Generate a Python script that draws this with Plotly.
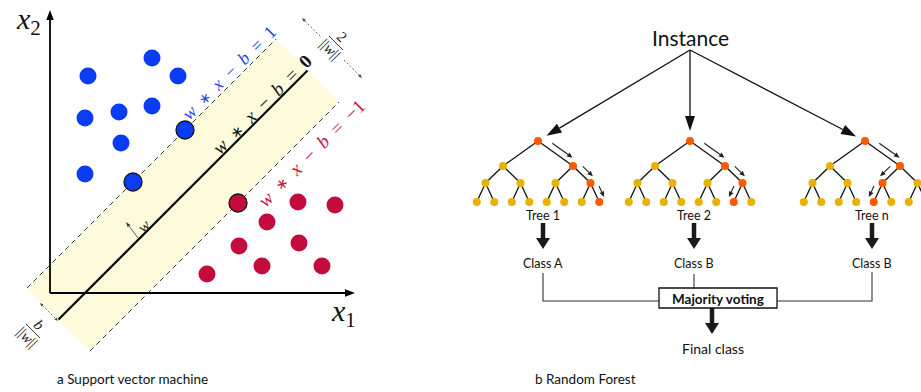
import numpy as np
import plotly.graph_objects as go

# ---------------- Support vector machine (feature space units) ----------------
blue_x1 = [3.8, 10.2, 12.8, 3.5, 6.9, 10.2, 7.1, 3.5]
blue_x2 = [21.7, 23.5, 21.7, 17.5, 18.1, 18.7, 15.0, 11.9]
blue_sv_x1 = [13.5, 8.3]
blue_sv_x2 = [16.3, 11.1]
red_x1 = [24.8, 28.5, 21.7, 18.9, 24.9, 21.2, 15.7, 27.2]
red_x2 = [9.1, 8.8, 7.1, 4.7, 5.0, 2.7, 1.9, 2.7]
red_sv_x1 = [18.8]
red_sv_x2 = [9.0]

plane_offset = -3.5      # decision boundary: x2 = x1 + plane_offset
margin_offset = 6.3      # margins: x2 = x1 + plane_offset +/- margin_offset
band_t = [0.85, 25.75]   # x1 extent of the drawn boundary segment
x1_axis_max = 30.5
x2_axis_max = 28.3

eq_labels = ["w ∗ x − b = 1", "w ∗ x − b = 0", "w ∗ x − b = −1"]

# ---------------- Random forest ----------------
instance_label = "Instance"
tree_names = ["Tree 1", "Tree 2", "Tree n"]
tree_votes = ["Class A", "Class B", "Class B"]
tree_paths = ["RRR", "RRL", "RLL"]
vote_label = "Majority voting"
final_label = "Final class"
captions = ["a Support vector machine", "b Random Forest"]

# colours
BLUE, RED = "#0a3cf5", "#c40c3c"
BLUE_TXT, RED_TXT = "#2f45f0", "#c8143f"
BAND = "#fdfbdb"
NODE_Y, NODE_R = "#e9b100", "#ff5a00"
SERIF = "Liberation Serif"
SANS = "Lato"

W, H = 921, 392
fig = go.Figure()
shapes, anns = [], []


def arrow(x0, y0, x1, y1, head_len, head_w, lw, color, xref="x", yref="y",
          dash="solid", heads=(False, True), layer="above"):
    p0 = np.array([x0, y0], float)
    p1 = np.array([x1, y1], float)
    u = (p1 - p0) / np.linalg.norm(p1 - p0)
    n = np.array([-u[1], u[0]])
    a, b = p0.copy(), p1.copy()
    out = []
    for flag, tip, sgn in ((heads[0], p0, -1), (heads[1], p1, 1)):
        if not flag:
            continue
        base = tip - sgn * u * head_len
        l, r = base + n * head_w / 2, base - n * head_w / 2
        out.append(dict(type="path", xref=xref, yref=yref, layer=layer,
                        path=f"M{tip[0]},{tip[1]} L{l[0]},{l[1]} L{r[0]},{r[1]} Z",
                        fillcolor=color, line=dict(width=0)))
        if sgn < 0:
            a = base
        else:
            b = base
    out.insert(0, dict(type="line", xref=xref, yref=yref, layer=layer,
                       x0=a[0], y0=a[1], x1=b[0], y1=b[1],
                       line=dict(color=color, width=lw, dash=dash)))
    return out


def text(t, x, y, size, color="#111", family=SANS, angle=0, xref="x", yref="y",
         xanchor="center"):
    anns.append(dict(text=t, x=x, y=y, xref=xref, yref=yref, showarrow=False,
                     textangle=angle, xanchor=xanchor, yanchor="middle",
                     font=dict(size=size, color=color, family=family)))


def math(s, size):
    out = []
    for tok in s.split(" "):
        if tok.isalpha():
            out.append(f"<i>{tok}</i>")
        elif tok == "∗":
            out.append(f'<span style="font-size:{size * 0.8:.1f}px">∗</span>')
        else:
            out.append(tok)
    return "\u2002".join(out)


# ---------- SVM panel (xaxis2 / yaxis2) ----------
S = dict(xref="x2", yref="y2")
h = margin_offset / 2
t0, t1 = band_t
c = plane_offset
up0, up1 = (t0 - h, t0 + c + h), (t1 - h, t1 + c + h)
dn0, dn1 = (t0 + h, t0 + c - h), (t1 + h, t1 + c - h)
shapes.append(dict(type="path", layer="below", fillcolor=BAND, line=dict(width=0),
                   path=f"M{up0[0]},{up0[1]} L{up1[0]},{up1[1]} L{dn1[0]},{dn1[1]} "
                        f"L{dn0[0]},{dn0[1]} Z", **S))
for p, q in ((up0, up1), (dn0, dn1)):
    shapes.append(dict(type="line", layer="below", x0=p[0], y0=p[1], x1=q[0], y1=q[1],
                       line=dict(color="#333", width=1, dash="5px,4px"), **S))
shapes.append(dict(type="line", layer="below", x0=t0, y0=t0 + c, x1=t1, y1=t1 + c,
                   line=dict(color="#000", width=2.2), **S))
# coordinate axes
shapes += arrow(0, 0, 0, x2_axis_max, 1.0, 0.75, 1.8, "#000", layer="below", **S)
shapes += arrow(0, 0, x1_axis_max, 0, 1.0, 0.75, 1.8, "#000", layer="below", **S)
# normal vector w
shapes += arrow(8.8, 5.5, 7.6, 7.1, 0.5, 0.35, 0.8, "#333", **S)
text("<i>w</i>", 9.3, 6.7, 16, "#222", SERIF, -45, **S)
# b/||w|| offset
shapes += arrow(-1.0, -1.0, 0.8, -2.8, 0.35, 0.3, 0.8, "#444", dash="2px,2px",
                heads=(True, True), **S)
# 2/||w|| margin width
shapes += arrow(25.2, 27.5, 27.1, 25.6, 0.4, 0.3, 0.8, "#444", dash="2px,2px",
                heads=(True, False), **S)
shapes += arrow(29.4, 23.3, 31.2, 21.5, 0.4, 0.3, 0.8, "#444", dash="2px,2px",
                heads=(False, True), **S)


def fraction(num, cx, cy, size):
    v = np.array([0.707, -0.707])
    shapes.append(dict(type="line", x0=cx - 1.0 * v[0], y0=cy - 1.0 * v[1],
                       x1=cx + 1.0 * v[0], y1=cy + 1.0 * v[1],
                       line=dict(color="#222", width=0.9), **S))
    text(num, cx + 0.6, cy + 0.6, size, "#222", SERIF, 45, **S)
    text("||<i>w</i>||", cx - 0.62, cy - 0.62, size, "#222", SERIF, 45, **S)


fraction("2", 28.6, 25.0, 15)
fraction("<i>b</i>", -1.7, -3.8, 15)

# hyperplane equations
text(math(eq_labels[0], 18), 17.9, 22.0, 18, BLUE_TXT, SERIF, -45, **S)
text(math(eq_labels[1], 19).replace("=\u20020", "=\u2002<b>0</b>"),
     21.2, 18.9, 19, "#111", SERIF, -45, **S)
text(math(eq_labels[2], 19), 26.1, 14.0, 19, RED_TXT, SERIF, -45, **S)
text("<i>x</i><sub>2</sub>", -2.2, 27.2, 30, "#111", SERIF, **S)
text("<i>x</i><sub>1</sub>", 29.3, -2.0, 30, "#111", SERIF, **S)

fig.add_trace(go.Scatter(x=blue_x1, y=blue_x2, mode="markers", xaxis="x2", yaxis="y2",
                         marker=dict(size=17, color=BLUE, line=dict(width=0))))
fig.add_trace(go.Scatter(x=red_x1, y=red_x2, mode="markers", xaxis="x2", yaxis="y2",
                         marker=dict(size=17, color=RED, line=dict(width=0))))
fig.add_trace(go.Scatter(x=blue_sv_x1, y=blue_sv_x2, mode="markers", xaxis="x2", yaxis="y2",
                         marker=dict(size=18, color=BLUE, line=dict(width=1.3, color="#111"))))
fig.add_trace(go.Scatter(x=red_sv_x1, y=red_sv_x2, mode="markers", xaxis="x2", yaxis="y2",
                         marker=dict(size=18, color=RED, line=dict(width=1.3, color="#111"))))

# ---------- Random forest panel (pixel axes) ----------
tree_root_x = [538, 690, 865]
col_x = [543, 694, 872]
level_y = [141, 166, 183, 202]
level_spread = [35, 17.5, 8.75]
src = np.array([690.0, 50.0])

text(instance_label, 690, 37, 21, "#111")

edge_x, edge_y = [], []
node_traces = []
for k, (rx, path) in enumerate(zip(tree_root_x, tree_paths)):
    levels = [[rx]]
    for sp in level_spread:
        levels.append([x + s * sp for x in levels[-1] for s in (-1, 1)])
    for li in range(len(levels) - 1):
        for i, px in enumerate(levels[li]):
            for ch in (2 * i, 2 * i + 1):
                edge_x += [px, levels[li + 1][ch], None]
                edge_y += [level_y[li], level_y[li + 1], None]
    on_path = {(0, 0)}
    idx = 0
    for li, step in enumerate(path):
        parent = np.array([levels[li][idx], level_y[li]])
        idx = 2 * idx + (1 if step == "R" else 0)
        child = np.array([levels[li + 1][idx], level_y[li + 1]])
        on_path.add((li + 1, idx))
        d = child - parent
        u = d / np.linalg.norm(d)
        nrm = np.array([u[1], -u[0]]) if u[0] > 0 else np.array([-u[1], u[0]])
        a = parent + 0.3 * d + 6.5 * nrm
        b = parent + 0.88 * d + 6.5 * nrm
        shapes.extend(arrow(a[0], a[1], b[0], b[1], 5.5, 5, 1.1, "#222"))
    nx, ny, nc = [], [], []
    for li, lv in enumerate(levels):
        for i, px in enumerate(lv):
            nx.append(px)
            ny.append(level_y[li])
            nc.append(NODE_R if (li, i) in on_path else NODE_Y)
    node_traces.append(go.Scatter(x=nx, y=ny, mode="markers",
                                  marker=dict(size=8, color=nc, line=dict(width=0))))
    # arrow from the instance to the tree root
    root = np.array([rx, level_y[0]])
    d = (root - src) / np.linalg.norm(root - src)
    tip = root - d * 10
    shapes.extend(arrow(src[0], src[1], tip[0], tip[1], 15, 10, 1.3, "#111"))
    # tree label, vote arrow, vote label
    text(tree_names[k], col_x[k], 215, 12.5, "#111")
    shapes.extend(arrow(col_x[k], 223, col_x[k], 249, 11, 14, 4.5, "#1a1a1a"))
    text(tree_votes[k], col_x[k], 263, 12.5, "#111")

fig.add_trace(go.Scatter(x=edge_x, y=edge_y, mode="lines", line=dict(color="#111", width=1.3)))
for tr in node_traces:
    fig.add_trace(tr)

# majority voting box and connectors
bx0, bx1, by0, by1 = 659, 777, 288, 308
line = dict(color="#333", width=1.1)
shapes.append(dict(type="path", path=f"M{col_x[0]},273 L{col_x[0]},301 L{bx0},301", line=line))
shapes.append(dict(type="path", path=f"M{col_x[2]},272 L{col_x[2]},301 L{bx1},301", line=line))
shapes.append(dict(type="line", x0=col_x[1], y0=274, x1=col_x[1], y1=by0, line=line))
shapes.append(dict(type="rect", x0=bx0, x1=bx1, y0=by0, y1=by1, fillcolor="white",
                   line=dict(color="#111", width=1.3)))
text(f"<b>{vote_label}</b>", (bx0 + bx1) / 2, (by0 + by1) / 2 + 0.5, 13.5, "#111")
shapes.extend(arrow(712, by1, 712, 334, 11, 14, 4.5, "#1a1a1a"))
text(final_label, 713, 348, 14, "#111")

text(captions[0], 55, 379, 13.5, "#111", xanchor="left")
text(captions[1], 533, 379, 13.5, "#111", xanchor="left")

fig.update_traces(hoverinfo="skip", showlegend=False)
fig.update_layout(
    width=W, height=H, margin=dict(l=0, r=0, t=0, b=0),
    paper_bgcolor="white", plot_bgcolor="rgba(0,0,0,0)", showlegend=False,
    xaxis=dict(range=[0, W], visible=False),
    yaxis=dict(range=[H, 0], visible=False),
    xaxis2=dict(range=[-5, -5 + W / 10], overlaying="x", anchor="y2", visible=False),
    yaxis2=dict(range=[(293 - H) / 10, 29.3], overlaying="y", anchor="x2", visible=False),
    shapes=shapes, annotations=anns,
)
fig.write_html("out.html")
